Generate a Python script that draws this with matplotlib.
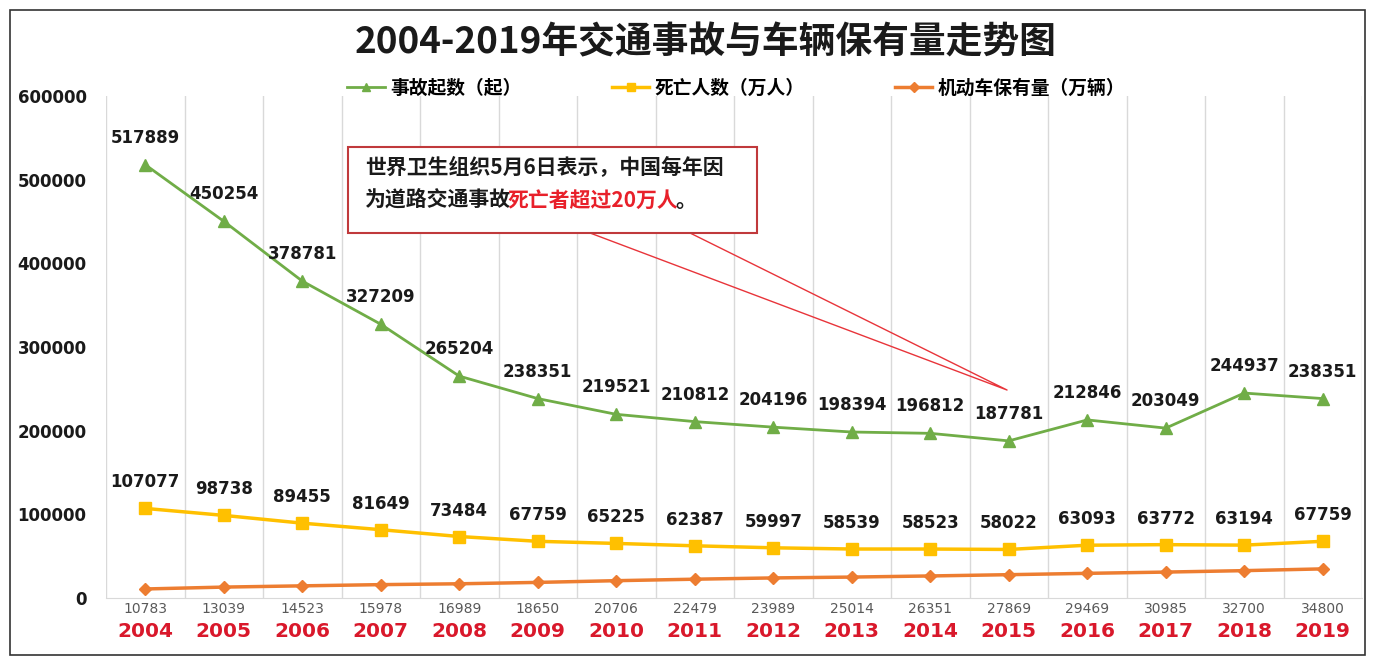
import matplotlib
matplotlib.use("Agg")
import matplotlib.pyplot as plt
from matplotlib.patches import Rectangle
from matplotlib.lines import Line2D
import numpy as np

plt.rcParams["font.family"] = ["Noto Sans CJK SC", "DejaVu Sans"]

# -- Data --------------------------------------------------
years = ["2004", "2005", "2006", "2007", "2008", "2009", "2010", "2011",
         "2012", "2013", "2014", "2015", "2016", "2017", "2018", "2019"]
accidents = [517889, 450254, 378781, 327209, 265204, 238351, 219521, 210812,
             204196, 198394, 196812, 187781, 212846, 203049, 244937, 238351]
deaths = [107077, 98738, 89455, 81649, 73484, 67759, 65225, 62387,
          59997, 58539, 58523, 58022, 63093, 63772, 63194, 67759]
vehicles = [10783, 13039, 14523, 15978, 16989, 18650, 20706, 22479,
            23989, 25014, 26351, 27869, 29469, 30985, 32700, 34800]
yticks = [0, 100000, 200000, 300000, 400000, 500000, 600000]

title = "2004-2019年交通事故与车辆保有量走势图"
names = ["事故起数（起）", "死亡人数（万人）", "机动车保有量（万辆）"]
note1 = "世界卫生组织5月6日表示，中国每年因"
note2a = "为道路交通事故"
note2b = "死亡者超过20万人"
note2c = "。"

GREEN = "#70AD47"
YELLOW = "#FFC000"
ORANGE = "#ED7D31"
RED = "#D9182B"
BOX = "#C0393B"

# -- Figure ------------------------------------------------
fig = plt.figure(figsize=(13.75, 6.65), dpi=100)
fig.patches.append(Rectangle((10 / 1375, 10 / 665), 1355 / 1375, 645 / 665,
                             transform=fig.transFigure, fill=False,
                             edgecolor="#333333", linewidth=1.2))
ax = fig.add_axes([106 / 1375, 67 / 665, 1256 / 1375, 502 / 665])

x = np.arange(len(years))
ax.plot(x, accidents, color=GREEN, lw=2, marker="^", ms=8, label=names[0], zorder=3)
ax.plot(x, deaths, color=YELLOW, lw=2.5, marker="s", ms=8, label=names[1], zorder=3)
ax.plot(x, vehicles, color=ORANGE, lw=2.5, marker="D", ms=6, label=names[2], zorder=3)

num_font = dict(family="DejaVu Sans", fontweight="bold", fontsize=12, color="#1a1a1a")
for i, v in enumerate(accidents):
    ax.annotate(str(v), (i, v), xytext=(0, 27), textcoords="offset pixels",
                ha="center", va="center", **num_font)
for i, v in enumerate(deaths):
    ax.annotate(str(v), (i, v), xytext=(0, 26), textcoords="offset pixels",
                ha="center", va="center", **num_font)
for i, v in enumerate(vehicles):
    ax.annotate(str(v), (i, 0), xycoords=("data", "axes fraction"),
                xytext=(0, -11), textcoords="offset pixels", ha="center",
                va="center", family="DejaVu Sans", fontsize=10, color="#595959")

ax.set_xlim(-0.5, len(years) - 0.5)
ax.set_ylim(0, 600000)
ax.set_xticks(x)
ax.set_xticklabels(years, family="DejaVu Sans", fontweight="bold",
                   fontsize=14.5, color=RED)
ax.tick_params(axis="x", length=0, pad=17)
ax.set_yticks(yticks)
ax.set_yticklabels([str(t) for t in yticks], family="DejaVu Sans",
                   fontweight="bold", fontsize=12, color="#1a1a1a")
ax.tick_params(axis="y", length=0, pad=14)
ax.set_xticks(np.arange(-0.5, len(years)), minor=True)
ax.tick_params(axis="x", which="minor", length=0)
ax.grid(axis="x", which="minor", color="#D9D9D9", lw=1)
for s in ["top", "right", "left"]:
    ax.spines[s].set_visible(False)
ax.spines["bottom"].set_color("#D9D9D9")

handles = [Line2D([], [], color=GREEN, lw=2, marker="^", ms=6),
           Line2D([], [], color=YELLOW, lw=2.5, marker="s", ms=6),
           Line2D([], [], color=ORANGE, lw=2.5, marker="D", ms=5)]
ax.legend(handles, names, ncol=3, loc="center", bbox_to_anchor=(0.502, 1.016),
          frameon=False, columnspacing=4.8, handlelength=2.0, handletextpad=0.3,
          prop=dict(family=["Noto Sans CJK SC", "DejaVu Sans"], weight="bold", size=13.5))

fig.text(0.513, 0.935, title, ha="center", va="center", fontsize=26.5,
         fontweight="bold", color="#1a1a1a")

# -- Callout ----------------------------------------------
ax.add_patch(Rectangle((0.1927, 0.7271), 0.3256, 0.1713, transform=ax.transAxes,
                       facecolor="white", edgecolor=BOX, lw=1.5, zorder=5))
ax.plot([0.3854, 0.7174, 0.4650], [0.7271, 0.4143, 0.7271], transform=ax.transAxes,
        color="#E8343A", lw=1, zorder=4)
nfont = dict(fontsize=15, fontweight="bold", zorder=6)
ax.text(0.2062, 0.8566, note1, transform=ax.transAxes, va="center",
        color="#1a1a1a", **nfont)
t1 = ax.text(0.2062, 0.7928, note2a, transform=ax.transAxes, va="center",
             color="#1a1a1a", **nfont)
t2 = ax.annotate(note2b, xy=(1, 0), xycoords=t1, xytext=(-4, 0),
                 textcoords="offset pixels", va="bottom", color="#E8202A", **nfont)
ax.annotate(note2c, xy=(1, 0), xycoords=t2, xytext=(-2, 0),
            textcoords="offset pixels", va="bottom", color="#1a1a1a", **nfont)

fig.savefig("out.png", dpi=100)
